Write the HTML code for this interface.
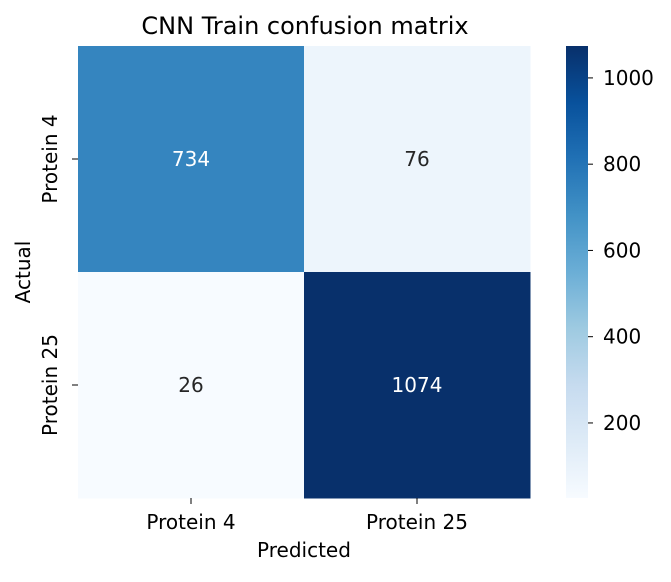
<!DOCTYPE html>
<html><head><meta charset="utf-8"><style>
body{margin:0;background:#fff;font-family:"Liberation Sans","DejaVu Sans",sans-serif}
svg text{font-family:"DejaVu Sans","Liberation Sans",sans-serif}
</style></head><body>
<svg id="c" width="671" height="577" xmlns="http://www.w3.org/2000/svg">
<defs><linearGradient id="g" x1="0" y1="1" x2="0" y2="0"></linearGradient></defs>
</svg>
<script>
const xLabels=["Protein 4","Protein 25"];
const yLabels=["Protein 4","Protein 25"];
const values=[[734,76],[26,1074]];
const cbTicks=[200,400,600,800,1000];
const NS="http://www.w3.org/2000/svg";
const svg=document.getElementById('c');
const blues=["#f7fbff","#deebf7","#c6dbef","#9ecae1","#6baed6","#4292c6","#2171b5","#08519c","#08306b"];
function mk(t,a,p){const e=document.createElementNS(NS,t);for(const k in a)e.setAttribute(k,a[k]);(p||svg).appendChild(e);return e;}
function hex(h){return [1,3,5].map(i=>parseInt(h.substr(i,2),16));}
function cmap(t){t=Math.max(0,Math.min(1,t));const s=t*(blues.length-1);const i=Math.min(Math.floor(s),blues.length-2);const f=s-i;const a=hex(blues[i]),b=hex(blues[i+1]);return `rgb(${a.map((v,k)=>Math.round(v+(b[k]-v)*f)).join(',')})`;}
const flat=values.flat();const vmin=Math.min(...flat),vmax=Math.max(...flat);
const L=78,T=46,W=452,H=452;
const cw=W/xLabels.length,ch=H/yLabels.length;
const xs=i=>L+i*cw, ys=j=>T+j*ch;
const t=mk('text',{x:305,y:34,'font-size':24,'text-anchor':'middle',fill:'#000'});
t.textContent='CNN Train confusion matrix';
values.forEach((row,j)=>row.forEach((v,i)=>{
 const tt=(v-vmin)/(vmax-vmin);
 const r=mk('rect',{x:xs(i),y:ys(j),width:cw+0.5,height:ch+0.5,fill:cmap(tt)});
 
 
 const tx=mk('text',{x:xs(i)+cw/2,y:ys(j)+ch/2+7,'font-size':20,'text-anchor':'middle',fill:tt>0.5?'#fff':'#262626'});
 
 
 tx.textContent=v;
}));
xLabels.forEach((l,i)=>{
 const cx=xs(i)+cw/2;
 mk('line',{x1:cx,y1:T+H,x2:cx,y2:T+H+6,stroke:'#000','stroke-width':1});
 const e=mk('text',{x:cx,y:529,'font-size':20,'text-anchor':'middle'});
 
 
 e.textContent=l;
});
yLabels.forEach((l,j)=>{
 const cy=ys(j)+ch/2;
 mk('line',{x1:L-6,y1:cy,x2:L,y2:cy,stroke:'#000','stroke-width':1});
 const e=mk('text',{x:0,y:0,'font-size':20,'text-anchor':'middle',transform:`translate(57,${cy}) rotate(-90)`});
 
 
 e.textContent=l;
});
const xt=mk('text',{x:304,y:557,'font-size':20,'text-anchor':'middle'});
xt.textContent='Predicted';
const yt=mk('text',{x:0,y:0,'font-size':20,'text-anchor':'middle',transform:`translate(30,${T+H/2}) rotate(-90)`});
yt.textContent='Actual';
const g=svg.querySelector('#g');
blues.forEach((c,i)=>mk('stop',{offset:i/(blues.length-1),'stop-color':c},g));
const CX=566,CW=22,CT=46,CB=498;
const cb=mk('rect',{x:CX,y:CT,width:CW,height:CB-CT,fill:'url(#g)'});

const cy=v=>CB-(v-vmin)/(vmax-vmin)*(CB-CT);
cbTicks.forEach(v=>{
 mk('line',{x1:CX+CW,y1:cy(v),x2:CX+CW+5,y2:cy(v),stroke:'#000','stroke-width':1});
 const e=mk('text',{x:CX+CW+15,y:cy(v)+7,'font-size':20});
 
 
 e.textContent=v;
});
</script>
</body></html>
